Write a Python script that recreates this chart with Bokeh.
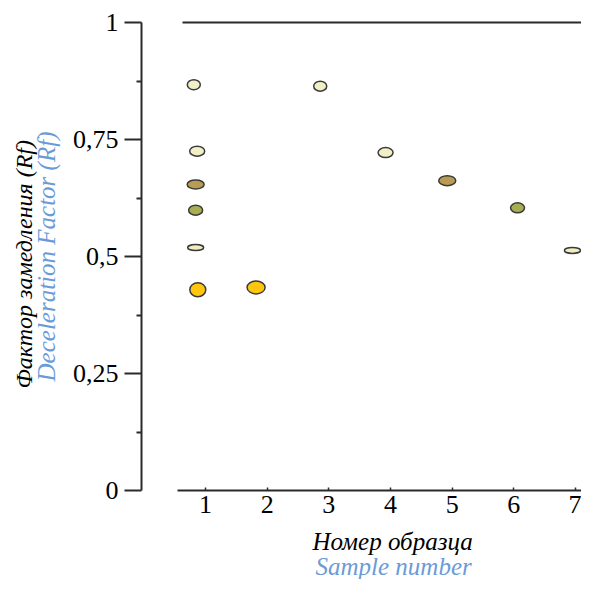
from bokeh.plotting import figure
from bokeh.models import (ColumnDataSource, LinearAxis, FixedTicker, Range1d, Title)
from bokeh.embed import file_html
from bokeh.resources import INLINE

# ---- data ----
sample_x = [0.81, 0.865, 0.84, 0.84, 0.84, 0.875, 1.82, 2.86, 3.92, 4.92, 6.06, 6.95]
rf_values = [0.867, 0.725, 0.654, 0.599, 0.519, 0.429, 0.434, 0.864, 0.722, 0.662, 0.604, 0.513]
x_ticks = [1, 2, 3, 4, 5, 6, 7]
y_ticks = [0, 0.25, 0.5, 0.75, 1]
y_tick_labels = ["0", "0,25", "0,5", "0,75", "1"]

# ---- styles ----
spot_colors = ["#f1efc6", "#f1efc6", "#b89c52", "#a9ad52", "#f3ecc0", "#ffc60c",
               "#ffc60c", "#f1efc6", "#f1efc6", "#b89c52", "#a9ad52", "#f3ecc0"]
spot_w = [13, 15, 17, 14, 16, 16, 18, 13, 15, 17, 14, 16]
spot_h = [10, 10, 9, 10, 6, 14, 13, 10, 10, 10, 10, 6]

SERIF = "'Liberation Serif', 'Times New Roman', serif"
BLUE = "#6a9bd8"

src = ColumnDataSource(dict(x=sample_x, y=rf_values, c=spot_colors, w=spot_w, h=spot_h))

p = figure(width=581, height=579, output_backend="svg", toolbar_location=None,
           x_range=Range1d(-0.038, 7.097), y_range=Range1d(0, 1),
           x_axis_type=None, y_axis_type=None,
           min_border_left=141, min_border_top=22, min_border_right=0, min_border_bottom=89)
p.outline_line_color = None
p.xgrid.visible = False
p.ygrid.visible = False
p.background_fill_color = "white"

axis_color = "#2a2a2a"

xaxis = LinearAxis(ticker=FixedTicker(ticks=x_ticks), bounds=(0.55, 7.5))
xaxis.axis_line_color = axis_color
xaxis.axis_line_width = 2
xaxis.major_tick_in = 3
xaxis.major_tick_out = 0
xaxis.major_tick_line_color = axis_color
xaxis.major_tick_line_width = 1.5
xaxis.minor_tick_line_color = None
xaxis.major_label_text_font = SERIF
xaxis.major_label_text_font_size = "26px"
xaxis.major_label_text_color = "black"
xaxis.major_label_standoff = 5
p.add_layout(xaxis, "below")

yaxis = LinearAxis(ticker=FixedTicker(ticks=y_ticks, minor_ticks=[0.125, 0.375, 0.625, 0.875]))
yaxis.major_label_overrides = {t: l for t, l in zip(y_ticks, y_tick_labels)}
yaxis.axis_line_color = axis_color
yaxis.axis_line_width = 2
yaxis.major_tick_in = 0
yaxis.major_tick_out = 17
yaxis.minor_tick_in = 0
yaxis.minor_tick_out = 5
yaxis.major_tick_line_color = axis_color
yaxis.major_tick_line_width = 2
yaxis.minor_tick_line_color = axis_color
yaxis.minor_tick_line_width = 2
yaxis.major_label_text_font = SERIF
yaxis.major_label_text_font_size = "26px"
yaxis.major_label_text_color = "black"
yaxis.major_label_standoff = 6
yaxis.axis_label = "Deceleration Factor (Rf)"
yaxis.axis_label_text_font = SERIF
yaxis.axis_label_text_font_style = "italic"
yaxis.axis_label_text_font_size = "25px"
yaxis.axis_label_text_color = BLUE
yaxis.axis_label_standoff = 10
p.add_layout(yaxis, "left")

topaxis = LinearAxis(ticker=FixedTicker(ticks=[]), bounds=(0.63, 7.5))
topaxis.axis_line_color = axis_color
topaxis.axis_line_width = 2
topaxis.major_label_text_font_size = "0px"
topaxis.major_tick_line_color = None
topaxis.minor_tick_line_color = None
p.add_layout(topaxis, "above")

t2 = Title(text="Фактор замедления (Rf)", align="left", offset=102, text_font=SERIF,
           text_font_style="italic", text_font_size="24px", text_color="black", standoff=-15)
p.add_layout(t2, "left")

b1 = Title(text="Номер образца", align="left", offset=171, text_font=SERIF,
           text_font_style="italic", text_font_size="25px", text_color="black", standoff=20)
b2 = Title(text="Sample number", align="left", offset=174, text_font=SERIF,
           text_font_style="italic", text_font_size="25px", text_color=BLUE, standoff=-28)
p.add_layout(b1, "below")
p.add_layout(b2, "below")

p.ellipse(x="x", y="y", width="w", height="h", width_units="screen", height_units="screen",
          fill_color="c", line_color="#3a3a3a", line_width=1.5, source=src)

open("out.html", "w").write(file_html(p, INLINE))
